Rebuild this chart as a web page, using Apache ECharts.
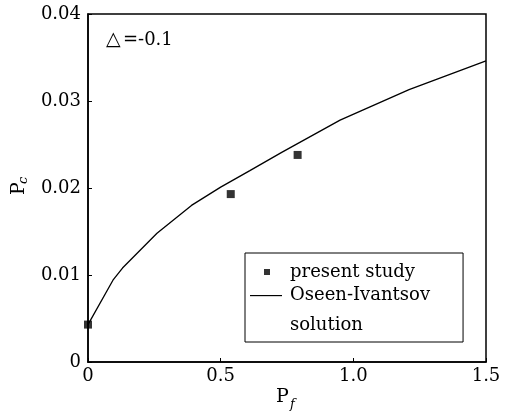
<!DOCTYPE html>
<html><head><meta charset="utf-8">
<script src="https://cdn.jsdelivr.net/npm/echarts@6/dist/echarts.min.js"></script>
<style>html,body{margin:0;padding:0;background:#fff}#c{width:505px;height:413px}</style>
</head><body><div id="c"></div>
<script>
const curveX = [0, 0.094, 0.13, 0.26, 0.39, 0.5, 0.61, 0.73, 0.95, 1.21, 1.5];
const curveY = [0.0043, 0.0094, 0.0108, 0.0148, 0.018, 0.0201, 0.022, 0.0241, 0.0278, 0.0313, 0.0346];
const studyX = [0, 0.538, 0.79];
const studyY = [0.0043, 0.0193, 0.0238];
const xTicks = [0, 0.5, 1.0, 1.5];
const yTicks = [0, 0.01, 0.02, 0.03, 0.04];
const seriesNames = ['present study', 'Oseen-Ivantsov solution'];

const font = 'DejaVu Serif';
const chart = echarts.init(document.getElementById('c'));
chart.setOption({
  animation: false,
  backgroundColor: '#fff',
  grid: {left: 88, right: 19, top: 14, bottom: 51, show: true, borderColor: '#000', borderWidth: 1.5},
  xAxis: {
    type: 'value', min: xTicks[0], max: xTicks[xTicks.length - 1], interval: 0.5,
    axisLine: {show: true, onZero: false, lineStyle: {color: '#000', width: 1.5}},
    axisTick: {show: true, inside: true, length: 4, lineStyle: {color: '#000'}},
    splitLine: {show: false},
    axisLabel: {color: '#000', fontFamily: font, fontSize: 18, margin: 5,
      formatter: v => v === 0 ? '0' : v.toFixed(1)}
  },
  yAxis: {
    type: 'value', min: yTicks[0], max: yTicks[yTicks.length - 1], interval: 0.01,
    axisLine: {show: true, onZero: false, lineStyle: {color: '#000', width: 1.5}},
    axisTick: {show: true, inside: true, length: 4, lineStyle: {color: '#000'}},
    splitLine: {show: false},
    axisLabel: {color: '#000', fontFamily: font, fontSize: 18, margin: 7,
      formatter: v => v === 0 ? '0' : String(+v.toFixed(2))}
  },
  legend: {
    orient: 'vertical', left: 245, top: 253,
    itemWidth: 35, itemHeight: 30, itemGap: -7,
    symbolKeepAspect: false,
    padding: [4, 33, 2, 5],
    borderColor: '#000', borderWidth: 1, backgroundColor: '#fff', borderRadius: 0,
    textStyle: {color: '#000', fontFamily: font, fontSize: 18, lineHeight: 30},
    formatter: n => n === seriesNames[1] ? 'Oseen-Ivantsov\nsolution' : n,
    data: [
      {name: seriesNames[0], icon: 'path://M0,0M35,30M14,12L20,12L20,18L14,18Z', itemStyle: {color: '#000'}},
      {name: seriesNames[1], icon: 'path://M0,30M35,0M0,-0.6L32,-0.6L32,0.6L0,0.6Z', itemStyle: {color: '#000'}}
    ]
  },
  graphic: [
    {type: 'text', x: 106, y: 31, style: {text: '△', fill: '#000', font: '19px ' + font}},
    {type: 'text', x: 123, y: 31, style: {text: '=-0.1', fill: '#000', font: '18px ' + font}},
    {type: 'text', x: 10, y: 195, rotation: Math.PI / 2, style: {text: 'P', fill: '#000', font: '19px ' + font}},
    {type: 'text', x: 17, y: 184, rotation: Math.PI / 2, style: {text: 'c', fill: '#000', font: 'italic 13px ' + font}},
    {type: 'text', x: 276, y: 388, style: {text: 'P', fill: '#000', font: '19px ' + font}},
    {type: 'text', x: 290, y: 398, style: {text: 'f', fill: '#000', font: 'italic 13px ' + font}}
  ],
  series: [
    {name: seriesNames[0], type: 'scatter', symbol: 'rect', symbolSize: 8,
      itemStyle: {color: '#000'}, z: 5,
      data: studyX.map((x, i) => [x, studyY[i]])},
    {name: seriesNames[1], type: 'line', showSymbol: false, symbol: 'none',
      lineStyle: {color: '#000', width: 1.3}, itemStyle: {color: '#000'},
      data: curveX.map((x, i) => [x, curveY[i]])}
  ]
});
</script></body></html>
